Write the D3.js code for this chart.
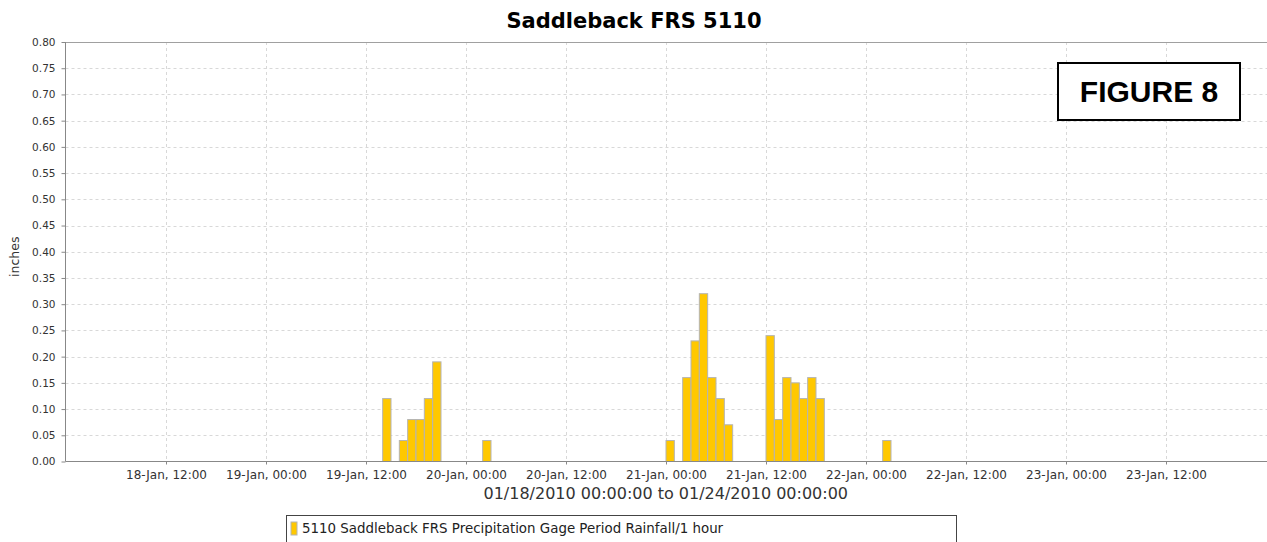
<!DOCTYPE html>
<html>
<head>
<meta charset="utf-8">
<script src="https://cdn.jsdelivr.net/npm/d3@7"></script>
<style>
  body { margin:0; background:#fff; }
  svg text { font-family: "DejaVu Sans", sans-serif; }
</style>
</head>
<body>
<svg id="chart" width="1267" height="542"></svg>
<script>
// hourly rainfall periods (start of hour), inches
var periods = ["2010-01-19T14:00","2010-01-19T16:00","2010-01-19T17:00","2010-01-19T18:00","2010-01-19T19:00","2010-01-19T20:00",
  "2010-01-20T02:00",
  "2010-01-21T00:00","2010-01-21T02:00","2010-01-21T03:00","2010-01-21T04:00","2010-01-21T05:00","2010-01-21T06:00","2010-01-21T07:00",
  "2010-01-21T12:00","2010-01-21T13:00","2010-01-21T14:00","2010-01-21T15:00","2010-01-21T16:00","2010-01-21T17:00","2010-01-21T18:00",
  "2010-01-22T02:00"];
var rainfall = [0.12,0.04,0.08,0.08,0.12,0.19,
  0.04,
  0.04,0.16,0.23,0.32,0.16,0.12,0.07,
  0.24,0.08,0.16,0.15,0.12,0.16,0.12,
  0.04];

var xTicks = ["2010-01-18T12:00","2010-01-19T00:00","2010-01-19T12:00","2010-01-20T00:00","2010-01-20T12:00",
  "2010-01-21T00:00","2010-01-21T12:00","2010-01-22T00:00","2010-01-22T12:00","2010-01-23T00:00","2010-01-23T12:00"];
var yTicks = [0,0.05,0.1,0.15,0.2,0.25,0.3,0.35,0.4,0.45,0.5,0.55,0.6,0.65,0.7,0.75,0.8];

var title = "Saddleback FRS 5110";
var yLabel = "inches";
var xLabel = "01/18/2010 00:00:00 to 01/24/2010 00:00:00";
var legendLabel = "5110 Saddleback FRS Precipitation Gage Period Rainfall/1 hour";

var parse = d3.utcParse("%Y-%m-%dT%H:%M");
var fmt = d3.utcFormat("%d-%b, %H:%M");

// note: "top" is taken by window.top, so plot edges get their own names
var pLeft = 65.5, pRight = 1266, pTop = 42, pBottom = 461.5;

var svg = d3.select("#chart");

var x = d3.scaleUtc()
  .domain([parse("2010-01-18T00:00"), parse("2010-01-24T00:00")])
  .range([pLeft + 0.5, pRight]);
var y = d3.scaleLinear().domain([0, 0.8]).range([pBottom, pTop]);

// grid
var grid = svg.append("g");
yTicks.slice(1).forEach(function(v){
  grid.append("line").attr("x1", pLeft).attr("x2", 1267)
    .attr("y1", Math.round(y(v)) + 0.5).attr("y2", Math.round(y(v)) + 0.5)
    .attr("stroke", "#d8d8d8").attr("stroke-dasharray", "3,3");
});
xTicks.forEach(function(t){
  var xp = Math.round(x(parse(t))) + 0.5;
  grid.append("line").attr("x1", xp).attr("x2", xp)
    .attr("y1", pTop).attr("y2", pBottom)
    .attr("stroke", "#d8d8d8").attr("stroke-dasharray", "3,3");
});

// plot top outline
svg.append("line").attr("x1", pLeft).attr("x2", 1267).attr("y1", pTop + 0.5).attr("y2", pTop + 0.5)
  .attr("stroke", "#a0a0a0");

// bars
var hour = 3600000;
svg.append("g").selectAll("rect")
  .data(periods.map(function(p, i){ return {t: parse(p), v: rainfall[i]}; }))
  .join("rect")
  .attr("x", function(d){ return x(d.t); })
  .attr("width", function(d){ return x(new Date(+d.t + hour)) - x(d.t); })
  .attr("y", function(d){ return y(d.v); })
  .attr("height", function(d){ return pBottom - y(d.v); })
  .attr("fill", "#ffc800")
  .attr("stroke", "#b4b4b4")
  .attr("stroke-width", 1);

// y axis
var yAxis = svg.append("g").attr("transform", "translate(" + pLeft + ",0)")
  .call(d3.axisLeft(y).tickValues(yTicks).tickFormat(d3.format(".2f")).tickSize(4).tickPadding(6));
yAxis.select(".domain").attr("stroke", "#888").attr("d", "M0," + pTop + "V" + pBottom);
yAxis.selectAll(".tick line").attr("stroke", "#888");
yAxis.selectAll("text").attr("font-size", 10.5).attr("fill", "#333").style("font-family", "DejaVu Sans");

// x axis
var xAxis = svg.append("g").attr("transform", "translate(0," + pBottom + ")")
  .call(d3.axisBottom(x).tickValues(xTicks.map(parse)).tickFormat(fmt).tickSize(3).tickPadding(6));
xAxis.select(".domain").attr("stroke", "#888").attr("d", "M" + pLeft + ",0H1267");
xAxis.selectAll(".tick line").attr("stroke", "#888");
xAxis.selectAll("text").attr("font-size", 12).attr("fill", "#333").style("font-family", "DejaVu Sans");

// labels
svg.append("text").attr("x", 634).attr("y", 28).attr("text-anchor", "middle")
  .attr("font-size", 21).attr("font-weight", "bold").text(title);
svg.append("text").attr("transform", "translate(19," + ((pTop + pBottom) / 2 + 5) + ") rotate(-90)")
  .attr("text-anchor", "middle").attr("font-size", 12.5).attr("fill", "#333").text(yLabel);
svg.append("text").attr("x", (pLeft + pRight) / 2).attr("y", 499).attr("text-anchor", "middle")
  .attr("font-size", 16).attr("fill", "#333").text(xLabel);

// legend
var lg = svg.append("g");
lg.append("rect").attr("x", 286.5).attr("y", 515.5).attr("width", 670).attr("height", 32)
  .attr("fill", "#fff").attr("stroke", "#444").attr("stroke-width", 1);
lg.append("rect").attr("x", 291).attr("y", 522).attr("width", 6).attr("height", 13)
  .attr("fill", "#ffc800").attr("stroke", "#b4b4b4");
lg.append("text").attr("x", 302).attr("y", 533).attr("font-size", 13.4).attr("fill", "#222").text(legendLabel);

// figure tag
var fg = svg.append("g");
fg.append("rect").attr("x", 1058).attr("y", 63).attr("width", 182).attr("height", 57)
  .attr("fill", "#fff").attr("stroke", "#000").attr("stroke-width", 2);
fg.append("text").attr("x", 1149).attr("y", 102).attr("text-anchor", "middle")
  .attr("font-size", 30).attr("font-weight", "bold")
  .style("font-family", "'Liberation Sans', Arial, sans-serif").text("FIGURE 8");
</script>
</body>
</html>
